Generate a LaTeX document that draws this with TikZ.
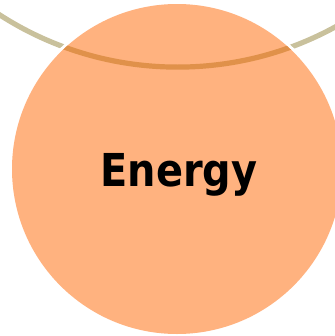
\documentclass[tikz,border=0pt]{standalone}
\usepackage{fontspec}
\newfontfamily\labelfont[FakeStretch=0.88]{DejaVu Sans}

\begin{document}
\begin{tikzpicture}[x=0.75pt,y=0.75pt,yscale=-1,xscale=1,
  ringline/.style={line width=3.9pt},
  sunfill/.style={fill={rgb, 255:red, 255; green, 178; blue, 127}}]
\useasboundingbox (0,0) rectangle (335,336);

%Shape: Ring centre [id:ring]
\coordinate (ring) at (177.6,-261.8);
%Shape: Circle centre [id:sun]
\coordinate (sun) at (177,169);

%Shape: Ring [id:ringout]
\draw [ringline, color={rgb, 255:red, 201; green, 193; blue, 156 }] (ring) circle [radius=328.9];
%Shape: Circle [id:sungap]
\fill [white] (sun) circle [radius=168];
%Shape: Circle [id:sunbody]
\path [sunfill] (sun) circle [radius=165];
%Shape: Ring inside circle [id:ringin]
\begin{scope}
\clip (sun) circle [radius=165];
\draw [ringline, color={rgb, 255:red, 224; green, 145; blue, 74 }] (ring) circle [radius=328.9];
\end{scope}

% Text Node
\node [anchor=base, inner sep=0.75pt, font=\labelfont\bfseries\fontsize{34}{40}\selectfont] (energy) at (179,186) {Energy};

\end{tikzpicture}
\end{document}
